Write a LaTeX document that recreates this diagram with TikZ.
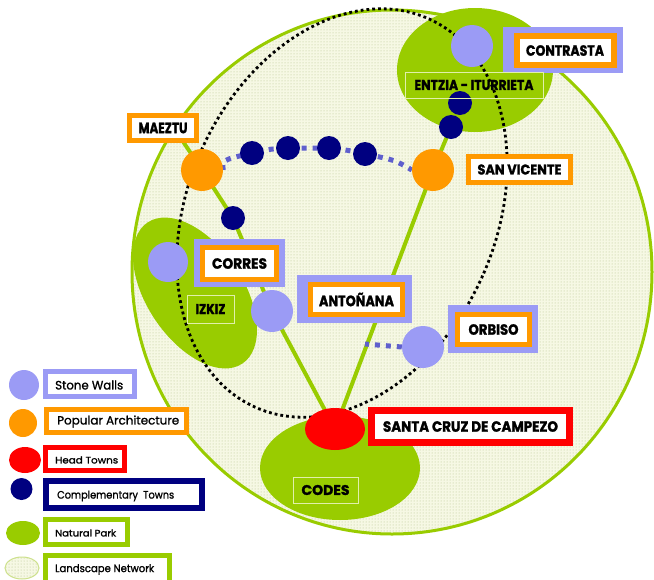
\documentclass[tikz,border=0pt]{standalone}
\usepackage{fontspec}
\setmainfont{Poppins}
\newfontfamily\heavyfont{Poppins}[BoldFeatures={FakeBold=1.6}]
\newfontfamily\legfont{Poppins}[FakeBold=1.2]
\usetikzlibrary{patterns,shapes.geometric}
\pgfdeclarelayer{bg}
\pgfdeclarelayer{conn}
\pgfsetlayers{bg,conn,main}
\definecolor{lav}{RGB}{155,155,245}
\definecolor{orng}{RGB}{255,153,0}
\definecolor{hred}{RGB}{255,0,0}
\definecolor{navy}{RGB}{0,0,128}
\definecolor{parkg}{RGB}{153,204,0}
\definecolor{slate}{RGB}{95,95,205}
\definecolor{bgfill}{RGB}{246,248,228}
\definecolor{dotc}{RGB}{180,194,140}
\definecolor{paleline}{RGB}{225,240,170}
\definecolor{legline}{RGB}{205,225,140}
\newcommand{\lbl}[3]{\resizebox{#1pt}{#2pt}{\heavyfont\bfseries #3}}
\newcommand{\leg}[3]{\resizebox{#1pt}{#2pt}{\legfont #3}}
\begin{document}
\begin{tikzpicture}[x=1pt,y=-1pt,
  park/.style={ellipse, fill=parkg, draw=none, inner sep=0pt},
  spot/.style={circle, inner sep=0pt, draw=none},
  stonec/.style={spot, fill=lav, minimum size=42pt},
  popc/.style={spot, fill=orng, minimum size=42pt},
  compc/.style={spot, fill=navy, minimum size=24pt},
  greenline/.style={draw=parkg, line width=4pt},
  blackdots/.style={draw=black, line width=2.8pt, dash pattern=on 2.8pt off 3pt},
  bluedots/.style={draw=slate, line width=5pt, dash pattern=on 5pt off 6pt},
  lavbox/.style={rectangle, fill=lav, inner sep=0pt},
  obox/.style={rectangle, draw=orng, line width=6pt, fill=white, inner sep=0pt},
  thinbox/.style={rectangle, draw=paleline, line width=1pt, inner sep=0pt},
  legbox/.style={rectangle, fill=white, line width=5pt, inner sep=0pt},
  legtext/.style={anchor=west, inner sep=0pt}
]
\useasboundingbox (0,0) rectangle (654,579);
\clip (0,0) rectangle (654,579);

\begin{pgfonlayer}{bg}
\fill[white] (0,0) rectangle (654,579);
% landscape network
\node[ellipse, minimum width=520pt, minimum height=524pt, inner sep=0pt,
      preaction={fill=bgfill}, pattern=dots, pattern color=dotc] (network) at (392,272) {};
\draw[parkg, line width=3pt] (network.center) ellipse [x radius=260, y radius=262];
% natural parks
\node[park, minimum width=156pt, minimum height=124pt] (entzia) at (475,70) {};
\node[park, rotate=-56, minimum width=170pt, minimum height=96pt] (izkiz) at (195,293) {};
\node[park, minimum width=160pt, minimum height=104pt] (codes) at (340,468) {};
% dotted ring
\draw[blackdots, rotate around={-24:(342,213)}] (342,213) ellipse [x radius=154, y radius=212.7];
\end{pgfonlayer}

% towns
\node[stonec] (contrastaC) at (472,46) {};
\node[compc] (ce1) at (460,103) {};
\node[compc] (ce2) at (451,127) {};
\node[popc] (sanvicenteC) at (433,170) {};
\node[popc] (maeztuC) at (202,170) {};
\node[compc] (cm1) at (252,153) {};
\node[compc] (cm2) at (288,148) {};
\node[compc] (cm3) at (329,148) {};
\node[compc] (cm4) at (365,154) {};
\node[compc] (cs1) at (233,218) {};
\node[stonec, minimum size=40pt] (corresC) at (168,262) {};
\node[stonec] (antonanaC) at (272,311) {};
\node[stonec] (orbisoC) at (423,347) {};
\node[ellipse, fill=hred, inner sep=0pt, minimum width=60pt, minimum height=42pt] (santacruz) at (335,429) {};
\coordinate (maeztuEnd) at (178,134);
\coordinate (orbisoEnd) at (365,344);

% connectors
\begin{pgfonlayer}{conn}
\draw[greenline] (maeztuEnd) -- (maeztuC.center);
\draw[greenline] (maeztuC.center) -- (cs1.center) -- (antonanaC.center) -- (santacruz.center);
\draw[greenline] (sanvicenteC.center) -- (santacruz.center);
\draw[greenline] (sanvicenteC.center) -- (ce2.center) -- (ce1.center);
\draw[bluedots] (maeztuC.east) .. controls (222,160) .. (cm1.center)
   .. controls (270,149) .. (cm2.center) -- (cm3.center)
   .. controls (347,150) .. (cm4.center) .. controls (395,160) .. (sanvicenteC.west);
\draw[bluedots] (orbisoC.west) -- (orbisoEnd);
\end{pgfonlayer}

% labels
\node[lavbox, minimum width=120pt, minimum height=46pt] (contrastaO) at (563,50) {};
\node[obox, minimum width=97pt, minimum height=29pt] (contrasta) at (565,50.5) {\lbl{78}{10.5}{CONTRASTA}};
\node[thinbox, minimum width=138pt, minimum height=26pt] (entziaL) at (474,85) {\lbl{119}{10}{ENTZIA - ITURRIETA}};
\node[obox, line width=5pt, minimum width=102pt, minimum height=26pt] (sanvicente) at (519.5,169.5) {\lbl{84}{10}{SAN VICENTE}};
\node[obox, line width=5pt, minimum width=67pt, minimum height=25pt] (maeztu) at (163,128) {\lbl{49}{10.5}{MAEZTU}};
\node[lavbox, minimum width=91pt, minimum height=48pt] (corresO) at (239.5,263) {};
\node[obox, line width=5pt, minimum width=74pt, minimum height=32pt] (corres) at (239.5,263.5) {\lbl{55}{10.5}{CORRES}};
\node[thinbox, minimum width=47pt, minimum height=28pt] (izkizL) at (210.5,309) {\lbl{30}{10}{IZKIZ}};
\node[lavbox, minimum width=115pt, minimum height=48pt] (antonanaO) at (354.5,299) {};
\node[obox, line width=5pt, minimum width=92pt, minimum height=30pt] (antonana) at (356.5,299.5) {\lbl{75}{13.5}{ANTOÑANA}};
\node[lavbox, minimum width=90pt, minimum height=48pt] (orbisoO) at (493,329) {};
\node[obox, line width=5pt, minimum width=72pt, minimum height=30pt] (orbiso) at (493.5,329.5) {\lbl{50}{10.5}{ORBISO}};
\node[obox, draw=hred, line width=7pt, minimum width=198pt, minimum height=32pt] (santacruzL) at (470.5,426.5) {\lbl{175}{10.5}{SANTA CRUZ DE CAMPEZO}};
\node[thinbox, minimum width=65pt, minimum height=26pt] (codesL) at (325.5,490) {\lbl{48}{10}{CODES}};

% legend
\node[spot, fill=lav, minimum size=30pt] (lgS) at (24,385) {};
\node[legbox, draw=lav, minimum width=89pt, minimum height=25pt] (lgSb) at (90,384) {};
\node[legtext] (lgSt) at (55,385) {\leg{68}{9}{Stone Walls}};

\node[spot, fill=orng, minimum size=28pt] (lgP) at (23,423) {};
\node[legbox, draw=orng, minimum width=140pt, minimum height=23pt] (lgPb) at (116.5,421) {};
\node[legtext] (lgPt) at (57,421.5) {\leg{122}{9}{Popular Architecture}};

\node[ellipse, fill=hred, inner sep=0pt, minimum width=32pt, minimum height=26pt] (lgH) at (25,460) {};
\node[legbox, draw=hred, minimum width=79pt, minimum height=23pt] (lgHb) at (85,459) {};
\node[legtext] (lgHt) at (55,460) {\leg{63}{7}{Head Towns}};

\node[spot, fill=navy, minimum size=22pt] (lgC) at (21.5,489) {};
\node[legbox, draw=navy, line width=6pt, minimum width=156pt, minimum height=27pt] (lgCb) at (124,494.5) {};
\node[legtext] (lgCt) at (57,496) {\leg{117}{8}{Complementary \ Towns}};

\node[ellipse, fill=parkg, inner sep=0pt, minimum width=34pt, minimum height=24pt] (lgN) at (23,533) {};
\node[legbox, draw=parkg, minimum width=82pt, minimum height=25pt] (lgNb) at (86.5,532) {};
\node[legtext] (lgNt) at (55,533) {\leg{61}{7}{Natural Park}};

\node[ellipse, draw=legline, line width=1pt, inner sep=0pt, minimum width=34pt, minimum height=22pt,
      preaction={fill=bgfill}, pattern=dots, pattern color=dotc] (lgL) at (22,568) {};
\node[legbox, draw=parkg, minimum width=124pt, minimum height=29pt] (lgLb) at (107.5,570) {};
\node[legtext] (lgLt) at (55,569.5) {\leg{99}{8}{Landscape Network}};
\end{tikzpicture}
\end{document}
